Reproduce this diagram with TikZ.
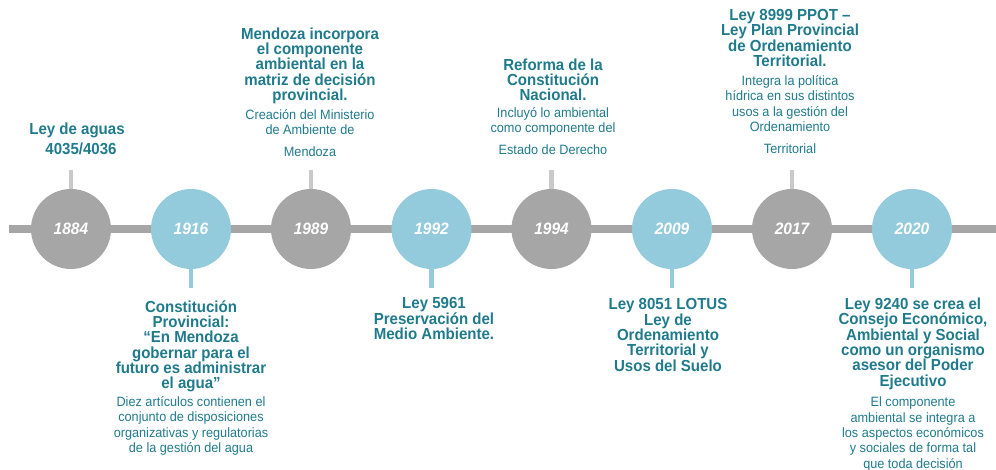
\documentclass[tikz,border=0pt]{standalone}
\usepackage{fontspec}
\setmainfont{Liberation Sans}[FakeStretch=0.94]
\definecolor{tl}{HTML}{1F7A8C}
\definecolor{cg}{HTML}{A6A6A6}
\definecolor{cb}{HTML}{93CBDC}
\definecolor{sg}{HTML}{C9C9C9}
\begin{document}
\begin{tikzpicture}[x=1pt,y=-1pt,
  yr/.style={circle,minimum size=80pt,inner sep=0pt,font=\fontsize{16.5}{16.5}\selectfont\bfseries\itshape,text=white},
  gy/.style={yr,fill=cg},
  bl/.style={yr,fill=cb},
  ttl/.style={align=center,inner sep=0pt,anchor=north,text=tl,font=\fontsize{16}{15.3}\selectfont\bfseries},
  sub/.style={align=center,inner sep=0pt,anchor=north,text=tl,font=\fontsize{13.5}{15.3}\selectfont},
  bar/.style={line width=7.5pt,draw=cg},
  stg/.style={line width=4.5pt,draw=sg},
  stb/.style={line width=4.5pt,draw=cb}]
\useasboundingbox (0,0) rectangle (996,470);
\coordinate (L) at (9,229);
\coordinate (R) at (996,229);
\draw[bar] (L) -- (R);
% circles
\node[gy] (c1884) at (71,229) {1884};
\node[bl] (c1916) at (191,229) {1916};
\node[gy] (c1989) at (311,229) {1989};
\node[bl] (c1992) at (431.5,229) {1992};
\node[gy] (c1994) at (551.5,229) {1994};
\node[bl] (c2009) at (672,229) {2009};
\node[gy] (c2017) at (792,229) {2017};
\node[bl] (c2020) at (912,229) {2020};
% stems
\coordinate (u1884) at (71,170);
\coordinate (u1989) at (311,170);
\coordinate (u1994) at (551.5,170);
\coordinate (u2017) at (792,170);
\coordinate (d1916) at (191,288);
\coordinate (d1992) at (431.5,288);
\coordinate (d2009) at (672,288);
\coordinate (d2020) at (912,288);
\draw[stg] (u1884) -- (c1884.north);
\draw[stg] (u1989) -- (c1989.north);
\draw[stg] (u1994) -- (c1994.north);
\draw[stg] (u2017) -- (c2017.north);
\draw[stb] (c1916.south) -- (d1916);
\draw[stb] (c1992.south) -- (d1992);
\draw[stb] (c2009.south) -- (d2009);
\draw[stb] (c2020.south) -- (d2020);
% texts above
\node[ttl,font=\fontsize{16}{20}\selectfont\bfseries] (t1884) at (77,123) {Ley de aguas\\\hspace*{8pt}4035/4036};
\node[ttl] (t1989) at (310,27.5) {Mendoza incorpora\\el componente\\ambiental en la\\matriz de decisión\\provincial.};
\node[sub] (s1989) at (310,109.3) {Creación del Ministerio\\de Ambiente de\\[6.5pt]Mendoza};
\node[ttl] (t1994) at (553,58.5) {Reforma de la\\Constitución\\Nacional.};
\node[sub] (s1994) at (553,107) {Incluyó lo ambiental\\como componente del\\[6.5pt]Estado de Derecho};
\node[ttl] (t2017) at (790,9.2) {Ley 8999 PPOT –\\Ley Plan Provincial\\de Ordenamiento\\Territorial.};
\node[sub] (s2017) at (790,75.3) {Integra la política\\hídrica en sus distintos\\usos a la gestión del\\Ordenamiento\\[6.5pt]Territorial};
% texts below
\node[ttl] (t1916) at (191,300.2) {Constitución\\Provincial:\\“En Mendoza\\gobernar para el\\futuro es administrar\\el agua”};
\node[sub] (s1916) at (191,396.3) {Diez artículos contienen el\\conjunto de disposiciones\\organizativas y regulatorias\\de la gestión del agua};
\node[ttl] (t1992) at (434,297.5) {Ley 5961\\Preservación del\\Medio Ambiente.};
\node[ttl] (t2009) at (668,298.5) {Ley 8051 LOTUS\\Ley de\\Ordenamiento\\Territorial y\\Usos del Suelo};
\node[ttl] (t2020) at (913,297.8) {Ley 9240 se crea el\\Consejo Económico,\\Ambiental y Social\\como un organismo\\asesor del Poder\\Ejecutivo};
\node[sub] (s2020) at (913,397) {El componente\\ambiental se integra a\\los aspectos económicos\\y sociales de forma tal\\que toda decisión};
\end{tikzpicture}
\end{document}
